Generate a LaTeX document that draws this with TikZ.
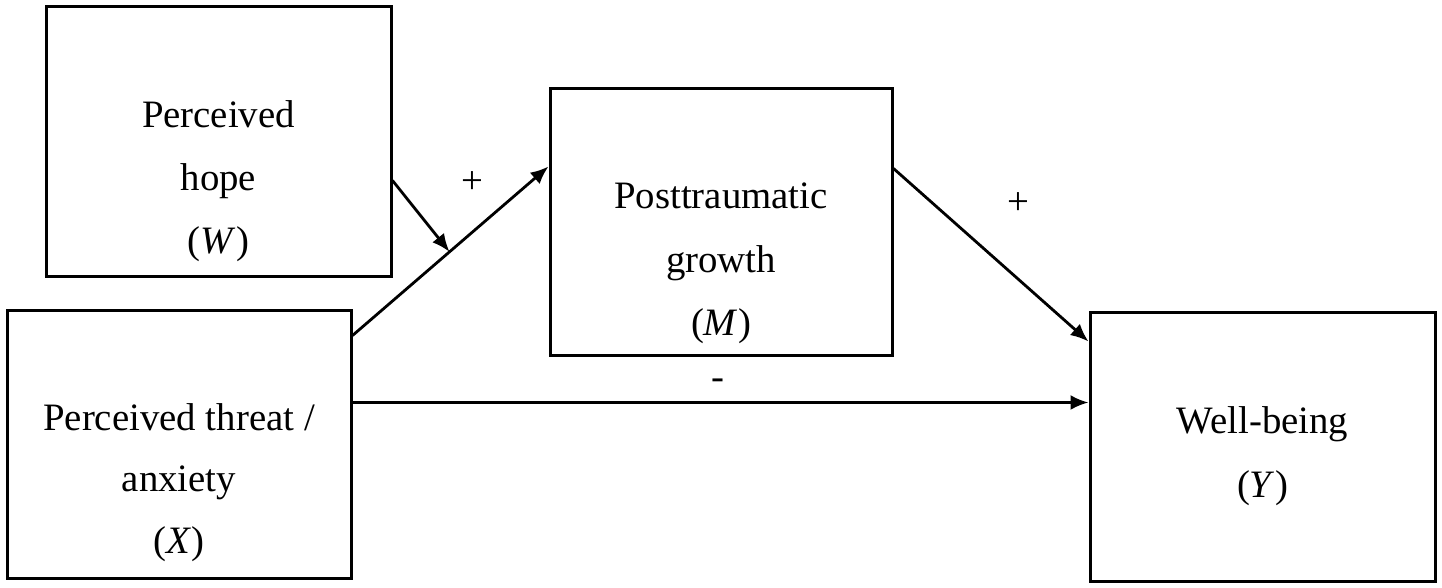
\documentclass[tikz,border=0pt]{standalone}
\usepackage{fontspec}
\setmainfont{Liberation Serif}
\usetikzlibrary{arrows.meta,calc}
\tikzset{
  boxnode/.style={draw, line width=1.5pt, inner sep=0pt},
  lbl/.style={inner sep=0pt, anchor=base, font=\fontsize{19.4pt}{23pt}\selectfont},
  conn/.style={line width=1.4pt, -{Latex[length=9pt,width=7.5pt]}},
}
\begin{document}
\begin{tikzpicture}[x=0.5pt,y=-0.5pt]
\useasboundingbox (0,0) rectangle (1442,588);
% boxes
\node[boxnode, minimum width=172.5pt, minimum height=135pt] (W) at (218.5,142) {};
\node[boxnode, minimum width=172pt, minimum height=133.5pt] (X) at (179,444.5) {};
\node[boxnode, minimum width=171pt, minimum height=133.5pt] (M) at (721,222.5) {};
\node[boxnode, minimum width=172.5pt, minimum height=134pt] (Y) at (1262.5,447) {};
% texts
\node[lbl] (w1) at (218.5,128) {Perceived};
\node[lbl] (w2) at (218.5,191) {hope};
\node[lbl] (w3) at (218.5,254) {(\textit{W})};
\node[lbl] (x1) at (179,430) {Perceived threat /};
\node[lbl] (x2) at (179,492) {anxiety};
\node[lbl] (x3) at (179,553) {(\textit{X})};
\node[lbl] (m1) at (721,209) {Posttraumatic};
\node[lbl] (m2) at (721,273) {growth};
\node[lbl] (m3) at (721,336) {(\textit{M})};
\node[lbl] (y1) at (1262.5,434) {Well-being};
\node[lbl] (y2) at (1262.5,497) {(\textit{Y})};
% connector end points
\coordinate (xs) at ($(X.north east)+(0,26)$);
\coordinate (me) at ($(M.north west)+(0,79)$);
\coordinate (ws) at ($(W.north east)+(0,175)$);
\coordinate (mid) at ($(xs)!0.495!(me)$);
\coordinate (ms) at ($(M.north east)+(0,81)$);
\coordinate (ye) at ($(Y.north west)+(0,30)$);
\coordinate (xh) at ($(X.north east)+(0,93)$);
\coordinate (yh) at (Y.west |- xh);
% connectors
\draw[conn] (xs) -- (me);
\draw[conn] (ws) -- (mid);
\draw[conn] (ms) -- (ye);
\draw[conn] (xh) -- (yh);
% signs
\node[inner sep=0pt, font=\fontsize{19.4pt}{23pt}\selectfont] (p1) at (472,183) {+};
\node[inner sep=0pt, font=\fontsize{19.4pt}{23pt}\selectfont] (p2) at (1018,204) {+};
\node[inner sep=0pt, font=\fontsize{19.4pt}{23pt}\selectfont] (n1) at (718,384) {-};
\end{tikzpicture}
\end{document}
